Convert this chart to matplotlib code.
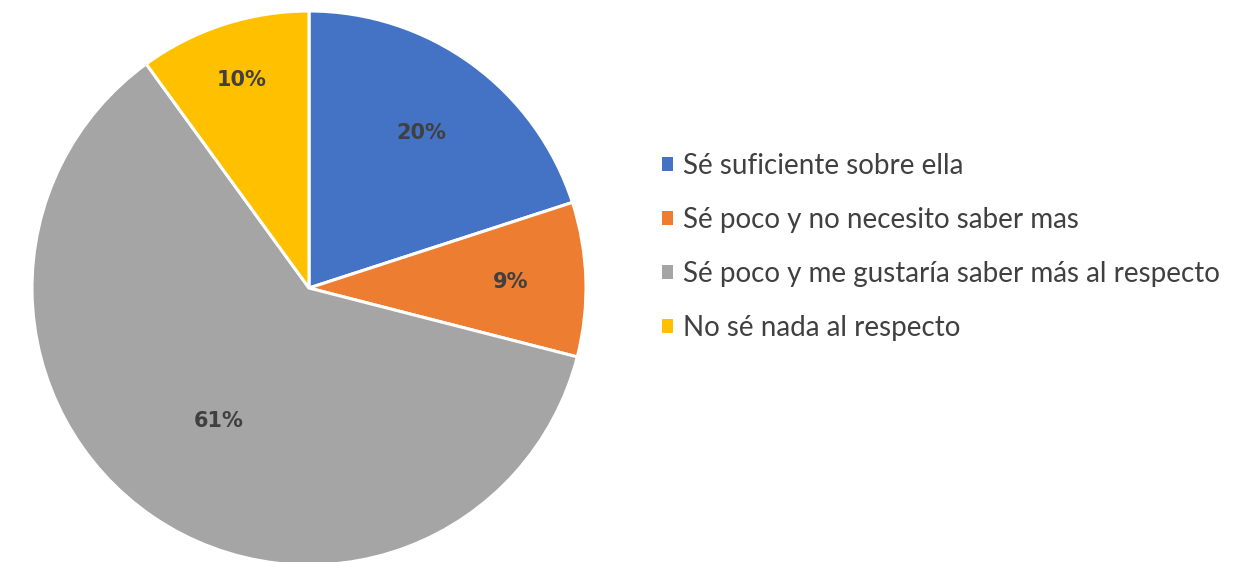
import numpy as np
import matplotlib
matplotlib.use("Agg")
import matplotlib.pyplot as plt
from matplotlib.patches import Patch

# ---- data ----
categories = [
    "Sé suficiente sobre ella",
    "Sé poco y no necesito saber mas",
    "Sé poco y me gustaría saber más al respecto",
    "No sé nada al respecto",
]
values = [20, 9, 61, 10]
colors = ["#4472C4", "#ED7D31", "#A5A5A5", "#FFC000"]

# layout (label radial distances as fraction of radius)
label_dist = [0.69, 0.73, 0.58, 0.79]

W, H = 1234, 562
fig = plt.figure(figsize=(W / 100, H / 100), dpi=100)
fig.patch.set_facecolor("white")

cx, cy, R = 309, 288, 277
ax = fig.add_axes([(cx - R) / W, (H - cy - R) / H, 2 * R / W, 2 * R / H])
wedges, _ = ax.pie(values, colors=colors, startangle=90, counterclock=False,
                   radius=1.0,
                   wedgeprops=dict(edgecolor="white", linewidth=2.2))
ax.set_xlim(-1, 1)
ax.set_ylim(-1, 1)
ax.set_aspect("equal")
ax.axis("off")

for w, v, d in zip(wedges, values, label_dist):
    ang = np.deg2rad((w.theta1 + w.theta2) / 2)
    ax.text(d * np.cos(ang), d * np.sin(ang), f"{v}%", ha="center", va="center",
            fontsize=15, fontweight="bold", color="#404040", family="DejaVu Sans")

handles = [Patch(facecolor=c, edgecolor="none") for c in colors]
leg = fig.legend(handles, categories, loc="center left",
                 bbox_to_anchor=(662 / W, 1 - 247 / H), bbox_transform=fig.transFigure,
                 frameon=False, borderpad=0, borderaxespad=0,
                 handlelength=0.4, handleheight=0.4, handletextpad=0.35,
                 labelspacing=1.0,
                 prop=dict(family="Lato", size=20))
for t in leg.get_texts():
    t.set_color("#404040")

fig.savefig("out.png", dpi=100, facecolor="white")
